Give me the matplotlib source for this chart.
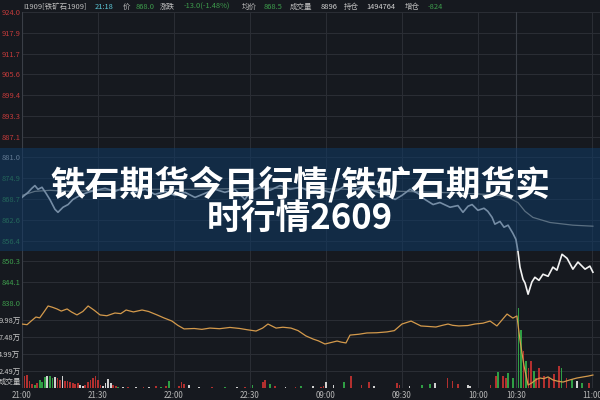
import numpy as np
import matplotlib.pyplot as plt
from matplotlib.patches import Rectangle

plt.rcParams['font.family'] = ['Noto Sans CJK SC', 'DejaVu Sans']

# ---------------- data ----------------
# time axis = minutes of trading since 21:00 (night 21:00-23:00, 09:00-10:15, 10:30-)
tick_pos = [0, 30, 60, 90, 120, 150, 180, 195, 225]
tick_lab = ["21:00", "21:30", "22:00", "22:30", "09:00", "09:30", "10:00", "10:30", "11:00"]

price_ticks = [838.0, 844.1, 850.3, 856.4, 862.6, 868.7, 874.9, 881.0,
               887.1, 893.3, 899.4, 905.6, 911.7, 917.9, 924.0]
pre_close = 881.0

price_t = [0, 2.4, 3.9, 5.1, 6.3, 7.9, 9.5, 11, 13, 14.2, 16.2, 18.2, 20.1, 22.9, 26, 28.8,
           32.8, 36.7, 40.7, 44.6, 48.6, 52.5, 56.5, 60.4, 64.4, 68.3, 72.2, 76.2, 80.1, 84.1,
           88, 90, 94, 97.9, 101.9, 105.8, 109.8, 113.7, 117.6, 121.6, 124.8, 127.5, 131.5,
           135.4, 139.4, 143.3, 147.3, 150, 153.2, 156.3, 159.1, 162.3, 165, 169, 172.1, 174.1,
           176.1, 177.7, 180, 182.4, 183.9, 185.6, 186.7, 188.7, 190.3, 191.9, 193.8, 195,
           195.8, 196.6, 197.8, 198.6, 199.8, 201.3, 202.5, 204.1, 205.7, 207.7, 209.6, 211.2,
           213.2, 215.2, 217.5, 219.5, 222.3, 224.2, 225.4]
price_v = [869.2, 870.7, 871.9, 872.7, 871.6, 872.2, 870.4, 868.6, 865.7, 864.8, 866.3, 867.1,
           868.6, 869.8, 870.7, 871.3, 871.9, 871.0, 872.2, 870.7, 871.6, 870.1, 871.0, 869.8,
           870.7, 869.2, 870.4, 871.6, 870.7, 871.6, 868.6, 870.7, 872.2, 871.3, 872.7, 871.6,
           872.2, 871.0, 871.6, 870.7, 871.3, 872.7, 871.6, 872.5, 871.0, 870.1, 868.6, 869.8,
           871.6, 870.4, 868.6, 867.1, 867.7, 866.3, 866.8, 864.8, 866.6, 867.1, 865.4, 866.0,
           865.1, 863.3, 861.3, 862.1, 860.4, 861.0, 858.6, 856.8, 853.3, 848.6, 845.0, 843.9,
           840.6, 844.2, 845.6, 844.7, 846.5, 845.9, 848.6, 847.7, 852.4, 851.2, 848.0, 850.1,
           848.0, 848.9, 847.1]

avg_t = [0, 5.1, 11, 19, 30.8, 50.5, 70.3, 90, 109.8, 129.5, 149.2, 169, 180.8, 188.7,
         192.7, 195.8, 198.6, 201.7, 208.4, 217.5, 225.4]
avg_v = [869.8, 871.0, 871.3, 871.0, 871.3, 871.6, 871.6, 871.9, 871.9, 871.6, 871.0, 870.6,
         870.2, 869.8, 868.9, 867.7, 865.1, 863.3, 861.8, 861.0, 860.7]

# open interest (万手)
oi_t = [0, 2, 3.6, 5.5, 7, 8.5, 10.3, 12, 13.8, 15.5, 17.8, 19.5, 21.7, 24, 26.1, 28.5, 30.8,
        33.5, 36.7, 39, 41.1, 44, 47.4, 50, 53.3, 56, 59.2, 61.5, 64, 68, 71, 74.2, 78, 82.1,
        86, 89, 92.4, 95, 97.1, 100.3, 103, 106.2, 109, 112.1, 115, 117, 119.6, 122, 124.4,
        126, 127.9, 129.5, 133, 136.2, 140, 144.1, 147, 150, 153.6, 157.5, 160, 163.4, 166,
        168.2, 170, 172.5, 176, 178.8, 182, 184.8, 187.5, 189.5, 191.5, 193.8, 195.4,
        196.6, 198.2, 199.8, 201.3, 203, 204.5, 206, 207.7, 209.6, 211.5, 213.6, 216.3,
        219.1, 221.5, 223.5, 225.4]
oi_v = [151.01, 150.98, 151.15, 151.34, 151.30, 151.55, 151.86, 151.80, 151.72, 151.62,
        151.72, 151.58, 151.44, 151.60, 151.86, 151.66, 151.44, 151.40, 151.53, 151.50,
        151.67, 151.58, 151.67, 151.60, 151.44, 151.30, 151.15, 150.95, 150.78, 150.80,
        150.76, 150.82, 150.79, 150.85, 150.80, 150.74, 150.68, 150.82, 151.01, 150.82,
        150.86, 150.82, 150.70, 150.45, 150.30, 150.22, 150.07, 150.14, 150.21, 150.16,
        150.12, 150.49, 150.53, 150.59, 150.60, 150.64, 150.70, 151.01, 151.15, 150.92,
        150.90, 150.87, 150.95, 151.01, 150.95, 150.92, 150.94, 151.01, 151.05, 151.15,
        150.92, 151.20, 151.48, 151.29, 151.39, 150.26, 149.04, 148.14, 148.24, 148.40,
        148.47, 148.44, 148.52, 148.38, 148.32, 148.28, 148.38, 148.47, 148.52, 148.56,
        148.61]

# volume bars (万)
vol_t = [0, 1, 2, 3, 4, 5, 6, 7, 8, 9, 10, 11, 12, 13, 14, 15, 16, 17, 18, 19, 20, 21, 22,
         23, 24, 25, 26, 27, 28, 29, 30, 31, 32, 33, 34, 35, 36, 37, 38, 40, 42, 45, 48, 50,
         53, 55, 57, 58, 62, 63, 64, 66, 70, 75, 80, 85, 88, 91, 95, 96, 98, 100, 104, 108,
         110, 115, 118, 119, 120, 123, 127, 130, 134, 137, 139, 148, 149, 153, 158, 161, 163,
         168, 170, 172, 176, 177, 185, 187, 188, 190, 191, 192, 194, 196, 197, 198, 199, 200,
         201, 202, 203, 204, 206, 208, 210, 212, 213, 215, 217, 219, 221, 224]
vol_v = [3.7, 1.8, 1.9, 1.0, 0.6, 0.5, 0.7, 1.2, 0.9, 1.6, 1.7, 1.8, 1.4, 1.6, 1.5, 1.2, 1.8,
         1.0, 1.1, 0.9, 0.8, 0.6, 0.7, 0.4, 0.3, 0.5, 0.9, 1.2, 1.5, 1.7, 1.2, 0.5, 0.3, 0.8,
         1.3, 0.8, 0.4, 0.3, 0.2, 0.2, 0.2, 0.15, 0.2, 0.15, 0.3, 0.2, 0.25, 1.0, 0.3, 0.9,
         0.6, 0.5, 0.2, 0.2, 0.2, 0.15, 0.2, 0.4, 0.9, 1.2, 0.6, 0.3, 0.2, 0.2, 0.3, 0.3, 0.2,
         0.3, 0.9, 0.4, 0.9, 1.7, 0.5, 0.9, 0.3, 0.7, 0.4, 0.3, 0.4, 0.6, 0.7, 1.5, 1.0, 0.6,
         0.4, 0.3, 0.5, 1.7, 2.3, 1.7, 1.5, 2.2, 1.5, 11.8, 8.5, 5.5, 4.0, 3.0, 4.0, 2.5, 1.5,
         2.9, 1.7, 1.4, 2.0, 3.2, 3.0, 1.5, 1.3, 1.0, 0.8, 0.7]
vol_c = list("grrrrgrgggwggwrrwrrrrrrwwrrrrrrrwwwwrrgwrwrwrgrgrrrwwrgwrgrrgrwrgwrrwwgrrrwrrwggwrrrwwrrgrrggggrgrrgrrrrrrgrgw")

# ---------------- style ----------------
bg = '#16191f'
grid_c = '#2b2e35'
red_c = '#c23a3a'
green_c = '#3d9c4c'
bar_cols = {'r': '#b3302f', 'g': '#2f9e44', 'w': '#d0d0d0'}
xmax = 228.2

fig = plt.figure(figsize=(6, 4), dpi=100, facecolor=bg)
W, H = 600.0, 400.0
L = 22 / W

axp = fig.add_axes([L, 1 - 303 / H, 1 - L, (303 - 12) / H], facecolor=bg)
axv = fig.add_axes([L, 1 - 388 / H, 1 - L, (388 - 303) / H], facecolor=bg)
axo = axv.twinx()

for ax in (axp, axv, axo):
    for s in ax.spines.values():
        s.set_visible(False)
    ax.set_xlim(0, xmax)
    ax.tick_params(length=0)

# price panel
axp.set_ylim(838.0, 924.0)
axp.set_yticks(price_ticks)
axp.set_yticklabels(["%.1f" % p for p in price_ticks], fontsize=5.4)
for lab, p in zip(axp.get_yticklabels(), price_ticks):
    if p > pre_close:
        lab.set_color(red_c)
    elif p < pre_close:
        lab.set_color(green_c)
    else:
        lab.set_color('#c8c8c8')
axp.tick_params(axis='y', pad=1)
axp.set_xticks(tick_pos)
axp.set_xticklabels([])
axp.grid(True, color=grid_c, lw=0.7)
axp.set_axisbelow(True)
axp.axvline(195, color='#3a3e46', lw=0.8)
axp.axvline(0, color='#3a3e46', lw=0.8)
axp.plot(avg_t, avg_v, color='#b8b2a4', lw=0.9)
axp.plot(price_t, price_v, color='#f2f2f2', lw=1.2)

# volume panel
axv.set_ylim(0, 12.47)
vt = [2.49, 4.99, 7.48, 9.98]
axv.set_yticks(vt)
axv.set_yticklabels(["%.2f万" % v for v in vt], fontsize=5.4, color='#c8c8c8')
axv.tick_params(axis='y', pad=1)
axv.set_xticks(tick_pos)
axv.set_xticklabels(tick_lab, fontsize=5.7, color='#b8b8b8')
axv.tick_params(axis='x', pad=2)
axv.grid(True, color=grid_c, lw=0.7)
axv.set_axisbelow(True)
axv.axvline(195, color='#3a3e46', lw=0.8)
axv.axvline(0, color='#3a3e46', lw=0.8)
axv.bar(vol_t, vol_v, width=0.7, color=[bar_cols[c] for c in vol_c], lw=0)
axv.text(-0.002, 0.07, "成交量", transform=axv.transAxes, ha='right', va='center',
         fontsize=5.4, color='#c8c8c8')

axo.set_ylim(148.0, 152.0)
axo.set_yticks([])
axo.plot(oi_t, oi_v, color='#d49a4c', lw=0.9)

# header
hy = 1 - 7 / H
header = [(23, "I1909[铁矿石1909]", '#bdbdbd'), (95, "21:18", '#5cc6d6'), (123, "价", '#bdbdbd'),
          (136, "868.0", green_c), (160, "涨跌", '#bdbdbd'), (184, "-13.0(-1.48%)", green_c),
          (242, "均价", '#bdbdbd'), (264, "868.5", green_c), (290, "成交量", '#bdbdbd'),
          (321, "8896", '#d0d0d0'), (344, "持仓", '#bdbdbd'), (366, "1494764", '#d0d0d0'),
          (405, "增仓", '#bdbdbd'), (428, "-824", green_c)]
for x, s, c in header:
    fig.text(x / W, hy, s, fontsize=5.4, color=c, ha='left', va='center')

# banner overlay
fig.add_artist(Rectangle((0, 1 - 251 / H), 1, (251 - 148) / H, transform=fig.transFigure,
                         facecolor='#0f3a66', alpha=0.55, lw=0, zorder=5))
fig.text(0.5, 1 - 184 / H, "铁石期货今日行情/铁矿石期货实", fontsize=25, color='white',
         fontweight='black', ha='center', va='center', zorder=6)
fig.text(0.5, 1 - 219 / H, "时行情2609", fontsize=25, color='white',
         fontweight='black', ha='center', va='center', zorder=6)

fig.savefig("out.png", dpi=100, facecolor=bg)
